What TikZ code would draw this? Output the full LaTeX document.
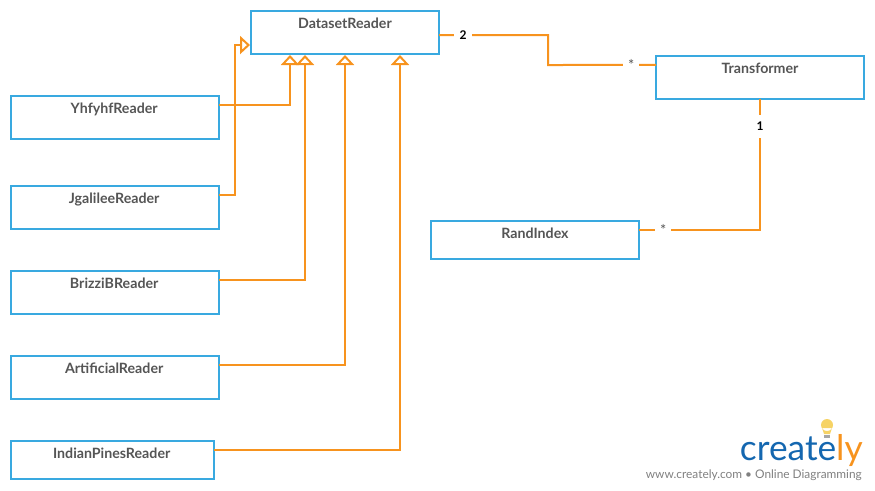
\documentclass[tikz,border=0pt]{standalone}
\usepackage{fontspec}
\setmainfont{Lato}
\usetikzlibrary{arrows.meta,positioning}
\definecolor{boxblue}{HTML}{39A9E0}
\definecolor{lineorange}{HTML}{F7931E}
\definecolor{textgrey}{HTML}{555555}
\definecolor{logoblue}{HTML}{1467B0}
\definecolor{bulbyellow}{HTML}{F6D365}
\tikzset{
	classbox/.style={draw=boxblue,line width=1.5pt,fill=white,minimum width=156pt,inner sep=0pt,outer sep=0pt,
		anchor=north west,text=textgrey,font=\fontsize{10.65pt}{12pt}\selectfont\bfseries,text height=12.75pt,text depth=19.5pt},
	shortbox/.style={classbox,text depth=15.75pt},
	inherit/.style={draw=lineorange,line width=1.5pt,shorten >=0.75pt,
		-{Triangle[open,fill=white,length=7.5pt,width=13.5pt,line width=1.5pt]}},
	assoc/.style={draw=lineorange,line width=1.5pt},
	multlabel/.style={fill=white,font=\fontsize{9pt}{10pt}\selectfont\bfseries,inner sep=0pt,minimum width=13pt,minimum height=17pt,text=black},
	manylabel/.style={multlabel,font=\fontsize{11pt}{12pt}\selectfont,text=textgrey,minimum width=12pt}
}
\begin{document}
\begin{tikzpicture}[x=0.75pt,y=0.75pt]
	\useasboundingbox (0,0) rectangle (875,-490);
	% class boxes
	\node[classbox,minimum width=141pt] (dataset) at (251,-11) {DatasetReader};
	\node[classbox] (transformer) at (656,-56) {Transformer};
	\node[shortbox] (randindex) at (431,-221) {RandIndex};
	\node[classbox] (yhfyhf) at (11,-96) {\kern-1.2pt YhfyhfReader};
	\node[classbox] (jgalilee) at (11,-186) {\kern-1.2pt JgalileeReader};
	\node[classbox] (brizzi) at (11,-271) {\kern-1.2pt BrizziBReader};
	\node[classbox] (artificial) at (11,-356) {\kern-1.2pt ArtificialReader};
	\node[shortbox,minimum width=152.25pt] (indian) at (11,-441) {\kern-1.2pt IndianPinesReader};
	% inheritance
	\draw[inherit] ([yshift=9.4pt]yhfyhf.east) -| ([xshift=-41.25pt]dataset.south);
	\draw[inherit] ([yshift=9.4pt]jgalilee.east) -- ++(12pt,0) |- ([yshift=-9.4pt]dataset.west);
	\draw[inherit] ([yshift=9.4pt]brizzi.east) -| ([xshift=-30pt]dataset.south);
	\draw[inherit] ([yshift=9.4pt]artificial.east) -| (dataset.south);
	\draw[inherit] ([yshift=7.5pt]indian.east) -| ([xshift=41.25pt]dataset.south);
	% associations
	\coordinate (bendtop) at (548,-65);
	\coordinate (bendright) at (760,-230);
	\draw[assoc] ([yshift=-1.9pt]dataset.east) -| node[multlabel,pos=0.11] (two) {2} (bendtop)
		-- node[manylabel,pos=0.77] (manyt) {*} ([yshift=9.4pt]transformer.west);
	\draw[assoc] (transformer.south) -- node[multlabel,pos=0.21] (one) {1} (bendright)
		-- node[manylabel,pos=0.8] (manyr) {*} ([yshift=7.5pt]randindex.east);
	% logo
	\node[text=logoblue,font=\fontsize{26.5pt}{28pt}\selectfont,inner sep=0pt,anchor=base east] (logo) at (863,-460)
		{create\textcolor{lineorange}{ly}};
	\fill[bulbyellow] (827,-425) circle[radius=6] (822,-428) -- (832,-428) -- (830,-434) -- (824,-434) -- cycle;
	\fill[gray!70] (824,-434.5) rectangle (830,-438);
	\node[text=gray,font=\fontsize{8.9pt}{10pt}\selectfont,inner sep=0pt,anchor=base east] (site) at (862,-478)
		{www.creately.com • Online Diagramming};
\end{tikzpicture}
\end{document}
